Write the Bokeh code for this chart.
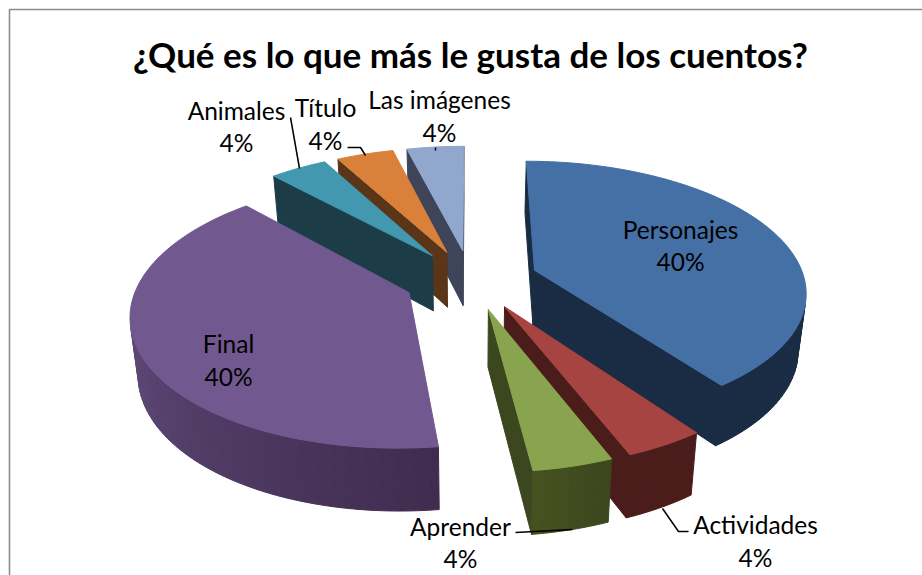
import math
from bokeh.plotting import figure
from bokeh.embed import file_html
from bokeh.resources import INLINE
from bokeh.core.properties import value
from bokeh.models import Range1d

title = "¿Qué es lo que más le gusta de los cuentos?"
categories = ["Personajes", "Actividades", "Aprender", "Final", "Animales", "Título", "Las imágenes"]
values = [40, 4, 4, 40, 4, 4, 4]
top_colors = ["#4470a5", "#a64441", "#89a44e", "#71588f", "#4198af", "#d9813b", "#91a7ce"]
wall_start = ["#1a2c44", "#4a1d1b", "#3b461e", "#3f2c4e", "#1c3c47", "#5a3518", "#3e4558"]
wall_end = ["#1a2c44", "#4a1d1b", "#46531f", "#755c96", "#1c3c47", "#5a3518", "#3e4558"]
cut_colors = ["#1a2c44", "#4a1d1b", "#3c471f", "#3f2c4e", "#1c3c47", "#5a3518", "#3e4558"]

# label centre positions in page pixels (name line y, percent line y)
label_pos = {
    "Personajes": (680, 229, 261), "Actividades": (755, 524, 557), "Aprender": (460, 526, 558),
    "Final": (228, 343, 376), "Animales": (236, 110, 142), "Título": (325, 107, 140),
    "Las imágenes": (439, 99, 132),
}
leaders = [
    ([290, 299], [117, 168]),
    ([347, 360, 365], [147, 147, 155]),
    ([435, 435], [147, 150]),
    ([515, 572], [532, 529]),
    ([662, 678, 688], [508, 531, 531]),
]

# projection of the exploded pie
CX, CY, A, B, K = 470.5, 279.0, 270.0, 128.0, 0.15
EXPLODE_X, EXPLODE_Y = 0.25, 0.235
DEPTH = 56.0

def project(X, Y, z=0.0):
    w = 1 - K * Y
    return (CX + A * X / w * (1 - 0.024 * z), CY + B * Y / w * (1 + 0.041 * z) + DEPTH * z)

def unit(t):
    r = math.radians(t)
    return math.sin(r), -math.cos(r)

def mix(c1, c2, f):
    a = [int(c1[i:i + 2], 16) for i in (1, 3, 5)]
    b = [int(c2[i:i + 2], 16) for i in (1, 3, 5)]
    return "#%02x%02x%02x" % tuple(round(p + (q - p) * f) for p, q in zip(a, b))

def area(pts):
    return sum(pts[i][0] * pts[(i + 1) % len(pts)][1] - pts[(i + 1) % len(pts)][0] * pts[i][1]
               for i in range(len(pts)))

total = sum(values)
slices = []
start = 0.0
for i, v in enumerate(values):
    sweep = 360.0 * v / total
    slices.append((i, start, start + sweep))
    start += sweep
slices.sort(key=lambda s: -math.cos(math.radians((s[1] + s[2]) / 2)))

p = figure(width=922, height=575, output_backend="svg", toolbar_location=None,
           x_range=Range1d(0, 922), y_range=Range1d(575, 0), min_border=0,
           background_fill_color="white", border_fill_color="white", outline_line_color=None)
p.axis.visible = False
p.grid.visible = False

# chart-area frame: only left and top edges fall inside the picture
p.line([9, 9, 922], [575, 9, 9], line_color="#8c8c8c", line_width=1.6)

def poly(pts, color):
    p.patch([q[0] for q in pts], [q[1] for q in pts], fill_color=color, line_color=color, line_width=1.0)

for i, t0, t1 in slices:
    m = (t0 + t1) / 2
    ux, uy = unit(m)
    ax, ay = EXPLODE_X * ux, EXPLODE_Y * uy
    n = max(4, int((t1 - t0) / 1.5))
    angles = [t0 + (t1 - t0) * k / n for k in range(n + 1)]
    disk = [(ax + unit(t)[0], ay + unit(t)[1]) for t in angles]

    # radial cut faces
    for a_pt, b_pt in (((ax, ay), disk[0]), (disk[-1], (ax, ay))):
        face = [project(*a_pt), project(*b_pt), project(*b_pt, 1.0), project(*a_pt, 1.0)]
        if area(face) < 0:
            poly(face, cut_colors[i])
    # curved outer wall
    for k in range(n):
        face = [project(*disk[k]), project(*disk[k + 1]), project(*disk[k + 1], 1.0), project(*disk[k], 1.0)]
        if area(face) < 0:
            poly(face, mix(wall_start[i], wall_end[i], (k + 0.5) / n))
    # top surface
    poly([project(ax, ay)] + [project(*d) for d in disk], top_colors[i])

for xs, ys in leaders:
    p.line(xs, ys, line_color="black", line_width=1.5)

p.text([470], [53], text=[title], text_font=value("Lato"), text_font_style="bold",
       text_font_size="35px", text_align="center", text_baseline="middle", text_color="black")
for c, v in zip(categories, values):
    x, y1, y2 = label_pos[c]
    pct = f"{round(100 * v / total)}%"
    p.text([x, x], [y1, y2], text=[c, pct], text_font=value("Lato"), text_font_size="24.5px",
           text_align="center", text_baseline="middle", text_color="black")

open("out.html", "w").write(file_html(p, INLINE))
